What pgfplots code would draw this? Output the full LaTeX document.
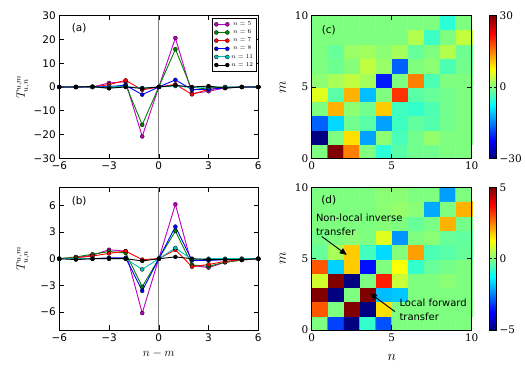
\documentclass[border=0pt]{standalone}
\usepackage{fontspec}
\setmainfont{DejaVu Sans}
\newfontfamily\serifnum{DejaVu Serif}
\usepackage{pgfplots}
\usepackage{pgfplotstable}
\pgfplotsset{compat=1.18}
\usetikzlibrary{arrows.meta}

% transfer vs n-m, panel (a)
\pgfplotstableread{
x   n5    n6    n7    n8    n11   n12
-6  0     0     0     0     0     0
-5  0     0     0     0     0     0
-4  0     0     0     0     0     0.2
-3  1.7   -0.5  1.0   0.2   0     -0.5
-2  2.2   1.0   2.8   0.7   0.2   0
-1  -20.8 -15.9 -1.2  -3.2  -0.4  -0.6
0   0     0     0     0     0     0
1   20.6  15.9  1.1   3.0   0.4   0.7
2   -2.8  -1.2  -3.1  -1.1  -0.2  0
3   -1.8  -0.3  -1.0  -1.0  0     0.4
4   -0.4  0     -0.3  -0.3  0     -0.5
5   0     0     0     0     0     0
6   0     0     0     0     0     0
}\tabA

% panel (b)
\pgfplotstableread{
x   n5    n6    n7    n8    n11   n12
-6  0     0     0     0     0     0
-5  0.1   0.2   0.1   0     0     -0.1
-4  0.4   0.5   0.3   0     0     0
-3  1.0   0.8   0.6   0.1   0     0
-2  0.85  0.65  0.85  0.1   0     0
-1  -6.1  -3.15 -0.1  -3.6  -1.2  -0.25
0   0     0     0     0     0     0
1   6.1   3.1   1.0   3.6   1.2   0.2
2   -0.75 -0.7  -0.9  -0.2  -0.1  0
3   -1.0  -0.85 -0.65 -0.2  0     -0.1
4   -0.4  -0.4  -0.3  -0.1  0     -0.1
5   -0.15 -0.15 -0.1  0     0     -0.1
6   0     0     0     0     0     0
}\tabB

\pgfplotsset{
  base/.style={scale only axis, anchor=south west, tick align=inside,
    major tick length=4.5bp, tick style={black, line width=0.6bp},
    axis line style={line width=0.8bp},
    font=\fontsize{10.5}{12.5}\selectfont,
    label style={font=\fontsize{12}{14}\selectfont}},
  lineplot/.style={base, width=199bp, height=142.6bp,
    xmin=-6, xmax=6, xtick={-6,-3,0,3,6}, xticklabels={−6,−3,0,3,6},
    ylabel style={at={(axis description cs:-0.182,0.5)}, anchor=center}},
  heat/.style={base, width=160bp, height=142.6bp, clip=false,
    xmin=0, xmax=10, ymin=0, ymax=10, xtick={0,5,10}, ytick={0,5,10},
    xticklabels={0,5,10}, yticklabels={0,5,10},
    ticklabel style={font=\fontsize{10.5}{12.5}\serifnum},
    label style={font=\fontsize{15}{17}\selectfont},
    axis on top, colormap/jet, enlargelimits=false, ylabel={$m$},
    ylabel style={at={(axis description cs:-0.18,0.5)}, anchor=center}},
  ser/.style={color=#1, mark=*, mark size=2bp, line width=0.9bp,
    mark options={draw=black, line width=0.3bp, fill=#1}},
  cbar/.style={colorbar, colorbar style={at={(parent axis.north east)},
    anchor=north west, xshift=9.3bp, width=6.7bp, height=142.6bp,
    scale only axis, font=\fontsize{10.5}{12.5}\selectfont,
    major tick length=2bp, tick style={black, line width=0.6bp},
    axis line style={line width=0.8bp}, yticklabel pos=right}},
}
\definecolor{mplm}{rgb}{0.75,0,0.75}
\definecolor{mplg}{rgb}{0,0.5,0}
\definecolor{mplc}{rgb}{0,0.75,0.75}

\begin{document}
\begin{tikzpicture}
\useasboundingbox (0,0) rectangle (525bp,375bp);

% (a)
\begin{axis}[lineplot, at={(59.3bp,216.7bp)},
  ymin=-30, ymax=30, ytick={-30,-20,...,30},
  yticklabels={−30,−20,−10,0,10,20,30},
  ylabel={$T^{u,m}_{u,n}$},
  legend style={at={(0.993,0.985)}, anchor=north east,
    font=\fontsize{6.5}{7}\selectfont, draw=black, line width=0.7bp,
    row sep=-1.2bp, inner sep=1.5bp},
  legend image code/.code={
    \draw[#1, mark=none] (0bp,0bp) -- (11bp,0bp);
    \draw[#1, only marks] plot coordinates {(0bp,0bp) (11bp,0bp)};}]
\addplot[forget plot, gray, line width=0.8bp] coordinates {(0,-30) (0,30)};
\addplot[ser=mplm] table[y=n5] {\tabA};
\addplot[ser=mplg] table[y=n6] {\tabA};
\addplot[ser=red] table[y=n7] {\tabA};
\addplot[ser=blue] table[y=n8] {\tabA};
\addplot[ser=mplc] table[y=n11] {\tabA};
\addplot[ser=black] table[y=n12] {\tabA};
\legend{$n=5$,$n=6$,$n=7$,$n=8$,$n=11$,$n=12$}
\node[anchor=west] at (rel axis cs:0.045,0.912) {(a)};
\end{axis}

% (b)
\begin{axis}[lineplot, at={(59.3bp,45bp)},
  ymin=-8, ymax=8, ytick={-6,-3,0,3,6},
  yticklabels={−6,−3,0,3,6},
  ylabel={$T^{u,m}_{u,n}$}, xlabel={$n-m$},
  xlabel style={at={(axis description cs:0.5,-0.165)}, anchor=center}]
\addplot[forget plot, gray, line width=0.8bp] coordinates {(0,-8) (0,8)};
\addplot[ser=mplm] table[y=n5] {\tabB};
\addplot[ser=mplg] table[y=n6] {\tabB};
\addplot[ser=red] table[y=n7] {\tabB};
\addplot[ser=blue] table[y=n8] {\tabB};
\addplot[ser=mplc] table[y=n11] {\tabB};
\addplot[ser=black] table[y=n12] {\tabB};
\node[anchor=west] at (rel axis cs:0.045,0.90) {(b)};
\end{axis}

% (c)
\begin{axis}[heat, at={(311.7bp,216.7bp)},
  point meta min=-30, point meta max=30, cbar,
  colorbar style={ytick={-30,0,30}, yticklabels={−30,0,30}}]
\addplot[matrix plot*, mesh/cols=10, point meta=explicit] table[meta=c] {
x y c
0.5 0.5 0
1.5 0.5 30
2.5 0.5 15
3.5 0.5 0
4.5 0.5 -5
5.5 0.5 -2.3
6.5 0.5 -0.8
7.5 0.5 -0.8
8.5 0.5 0
9.5 0.5 0
0.5 1.5 -30
1.5 1.5 0
2.5 1.5 9.3
3.5 1.5 -13
4.5 1.5 0.8
5.5 1.5 -3.3
6.5 1.5 -0.8
7.5 1.5 1.2
8.5 1.5 0
9.5 1.5 0
0.5 2.5 -16.8
1.5 2.5 -9.8
2.5 2.5 -0.8
3.5 2.5 -2.3
4.5 2.5 -13
5.5 2.5 -3.8
6.5 2.5 -1.8
7.5 2.5 -2.7
8.5 2.5 -0.8
9.5 2.5 0
0.5 3.5 0
1.5 3.5 12
2.5 3.5 0.8
3.5 3.5 -0.8
4.5 3.5 10.5
5.5 3.5 -3.8
6.5 3.5 -4.5
7.5 3.5 -3
8.5 3.5 -0.8
9.5 3.5 0
0.5 4.5 5.7
1.5 4.5 -2.3
2.5 4.5 12
3.5 4.5 -11.3
4.5 4.5 0
5.5 4.5 19.5
6.5 4.5 -2.3
7.5 4.5 -1.5
8.5 4.5 -0.8
9.5 4.5 0
0.5 5.5 0.8
1.5 5.5 2.3
2.5 5.5 3.8
3.5 5.5 2.2
4.5 5.5 -21
5.5 5.5 0
6.5 5.5 15
7.5 5.5 -3
8.5 5.5 0
9.5 5.5 0
0.5 6.5 0
1.5 6.5 -1
2.5 6.5 0.3
3.5 6.5 3.8
4.5 6.5 1.5
5.5 6.5 -16.8
6.5 6.5 0
7.5 6.5 0.8
8.5 6.5 -3
9.5 6.5 -0.8
0.5 7.5 0
1.5 7.5 -1.5
2.5 7.5 1.5
3.5 7.5 2
4.5 7.5 0.7
5.5 7.5 2.2
6.5 7.5 -1.5
7.5 7.5 0
8.5 7.5 3
9.5 7.5 -1
0.5 8.5 0
1.5 8.5 0
2.5 8.5 0
3.5 8.5 0
4.5 8.5 0
5.5 8.5 0
6.5 8.5 3
7.5 8.5 -4
8.5 8.5 0
9.5 8.5 4
0.5 9.5 0
1.5 9.5 0
2.5 9.5 0
3.5 9.5 0
4.5 9.5 0
5.5 9.5 0
6.5 9.5 0
7.5 9.5 0
8.5 9.5 -5
9.5 9.5 0
};
\node[anchor=west] at (rel axis cs:0.041,0.90) {(c)};
\end{axis}

% (d)
\begin{axis}[heat, at={(311.7bp,45bp)},
  point meta min=-5, point meta max=5, cbar,
  colorbar style={ytick={-5,0,5}, yticklabels={−5,0,5}},
  xlabel={$n$},
  xlabel style={at={(axis description cs:0.5,-0.19)}, anchor=center}]
\addplot[matrix plot*, mesh/cols=10, point meta=explicit] table[meta=c] {
x y c
0.5 0.5 0
1.5 0.5 -3.1
2.5 0.5 -5
3.5 0.5 -0.75
4.5 0.5 -2.95
5.5 0.5 0
6.5 0.5 0
7.5 0.5 0
8.5 0.5 0
9.5 0.5 0
0.5 1.5 2.9
1.5 1.5 0
2.5 1.5 5
3.5 1.5 -5
4.5 1.5 1.55
5.5 1.5 0
6.5 1.5 0
7.5 1.5 0
8.5 1.5 0
9.5 1.5 0
0.5 2.5 5
1.5 2.5 -5
2.5 2.5 0
3.5 2.5 5
4.5 2.5 -1.9
5.5 2.5 -1.8
6.5 2.5 0
7.5 2.5 0
8.5 2.5 0
9.5 2.5 0
0.5 3.5 0.8
1.5 3.5 5
2.5 3.5 -5
3.5 3.5 0
4.5 3.5 3.45
5.5 3.5 0.7
6.5 3.5 0
7.5 3.5 0
8.5 3.5 0.1
9.5 3.5 0
0.5 4.5 2.9
1.5 4.5 -1.7
2.5 4.5 1.75
3.5 4.5 -3.6
4.5 4.5 0
5.5 4.5 1.2
6.5 4.5 -0.75
7.5 4.5 -0.25
8.5 4.5 -0.1
9.5 4.5 0
0.5 5.5 -0.25
1.5 5.5 0.4
2.5 5.5 1.75
3.5 5.5 -0.6
4.5 5.5 -1.6
5.5 5.5 0.05
6.5 5.5 2.2
7.5 5.5 -0.5
8.5 5.5 -0.4
9.5 5.5 -0.25
0.5 6.5 -0.1
1.5 6.5 0
2.5 6.5 0.1
3.5 6.5 0
4.5 6.5 0.95
5.5 6.5 -2.3
6.5 6.5 0
7.5 6.5 0.1
8.5 6.5 -0.25
9.5 6.5 -0.3
0.5 7.5 0
1.5 7.5 0
2.5 7.5 0
3.5 7.5 0
4.5 7.5 0.05
5.5 7.5 0
6.5 7.5 -0.25
7.5 7.5 -0.05
8.5 7.5 2
9.5 7.5 -0.1
0.5 8.5 0
1.5 8.5 0
2.5 8.5 0
3.5 8.5 0
4.5 8.5 0.1
5.5 8.5 0.2
6.5 8.5 0.1
7.5 8.5 -2.1
8.5 8.5 0
9.5 8.5 2
0.5 9.5 0
1.5 9.5 0
2.5 9.5 0
3.5 9.5 0
4.5 9.5 0.1
5.5 9.5 0.1
6.5 9.5 0
7.5 9.5 0
8.5 9.5 -2.2
9.5 9.5 0
};
\node[anchor=west] at (rel axis cs:0.038,0.913) {(d)};
\node[anchor=west, align=left, font=\fontsize{10}{13.5}\selectfont]
  at (axis cs:0.05,7.38) {Non-local inverse\\transfer};
\draw[-{Triangle[length=7bp,width=6bp]}, line width=0.9bp]
  (axis cs:0.63,6.56) -- (axis cs:2.19,5.27);
\node[anchor=west, align=left, font=\fontsize{10}{13.5}\selectfont]
  at (axis cs:5.27,1.43) {Local forward\\transfer};
\draw[-{Triangle[length=7bp,width=6bp]}, line width=0.9bp]
  (axis cs:5.2,1.29) -- (axis cs:3.64,2.58);
\end{axis}
\end{tikzpicture}
\end{document}
